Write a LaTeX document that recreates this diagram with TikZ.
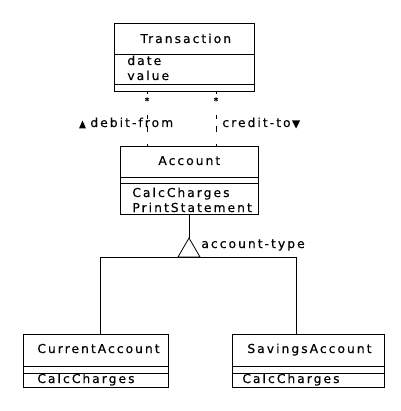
\documentclass[tikz,border=0pt]{standalone}
\usepackage{fontspec}
\setmainfont{DejaVu Sans}[LetterSpace=16.5,FakeBold=0.4]
\newfontfamily\plainfont{DejaVu Sans}[FakeBold=0.6]
\begin{document}
\begin{tikzpicture}[x=1pt,y=-1pt,
  line width=0.8pt,
  box/.style={draw, line width=0.8pt, inner sep=0pt, anchor=north west},
  txt/.style={inner sep=0pt, anchor=base west, font=\fontsize{12.3}{15}\selectfont},
  star/.style={inner sep=0pt, anchor=base, font=\plainfont\fontsize{9}{9}\selectfont},
  assoc/.style={dash pattern=on 2pt off 21pt on 4pt off 7pt on 6pt off 12pt on 3pt}
]
\useasboundingbox[fill=white] (0,0) rectangle (400,411);

% Transaction
\node[box, minimum width=140pt, minimum height=68pt] (trans) at (114,23) {};
\draw (trans.west |- 0,54) -- (trans.east |- 0,54);
\draw (trans.west |- 0,84) -- (trans.east |- 0,84);
\node[txt] (transT) at (140,43) {Transaction};
\node[txt] (transA1) at (127,65) {date};
\node[txt] (transA2) at (127,80) {value};

% Account
\node[box, minimum width=138pt, minimum height=68pt] (acct) at (120,146) {};
\draw (acct.west |- 0,177) -- (acct.east |- 0,177);
\draw (acct.west |- 0,183) -- (acct.east |- 0,183);
\node[txt] (acctT) at (158,165) {Account};
\node[txt] (acctO1) at (132,197) {CalcCharges};
\node[txt] (acctO2) at (132,212) {PrintStatement};

% associations
\node[star] (s1) at (147,104) {*};
\node[star] (s2) at (216,104) {*};
\draw[assoc] (s1 |- trans.south) -- (s1 |- acct.north);
\draw[assoc] (s2 |- trans.south) -- (s2 |- acct.north);
\node[txt] (debit) at (90,127) {debit-from};
\node[txt] (credit) at (222,127) {credit-to};
\fill (79,128.5) -- (82.5,120.5) -- (86,128.5) -- cycle;
\fill (292,120.5) -- (300,120.5) -- (296,128.5) -- cycle;

% CurrentAccount
\node[box, minimum width=145pt, minimum height=53pt] (cur) at (23,334) {};
\draw (cur.west |- 0,366) -- (cur.east |- 0,366);
\draw (cur.west |- 0,373) -- (cur.east |- 0,373);
\node[txt] (curT) at (37,353) {CurrentAccount};
\node[txt] (curO) at (37,383) {CalcCharges};

% SavingsAccount
\node[box, minimum width=152pt, minimum height=53pt] (sav) at (232,334) {};
\draw (sav.west |- 0,366) -- (sav.east |- 0,366);
\draw (sav.west |- 0,373) -- (sav.east |- 0,373);
\node[txt] (savT) at (247,353) {SavingsAccount};
\node[txt] (savO) at (242,383) {CalcCharges};

% generalization
\coordinate (apex) at (189,238);
\coordinate (jl) at (100,257);
\coordinate (jr) at (296,257);
\draw (apex |- acct.south) -- (apex);
\draw (apex) -- (178,257) -- (200,257) -- cycle;
\draw (jl) -- (jr);
\draw (jl) -- (jl |- cur.north);
\draw (jr) -- (jr |- sav.north);
\node[txt] (gen) at (201,248) {account-type};
\end{tikzpicture}
\end{document}
